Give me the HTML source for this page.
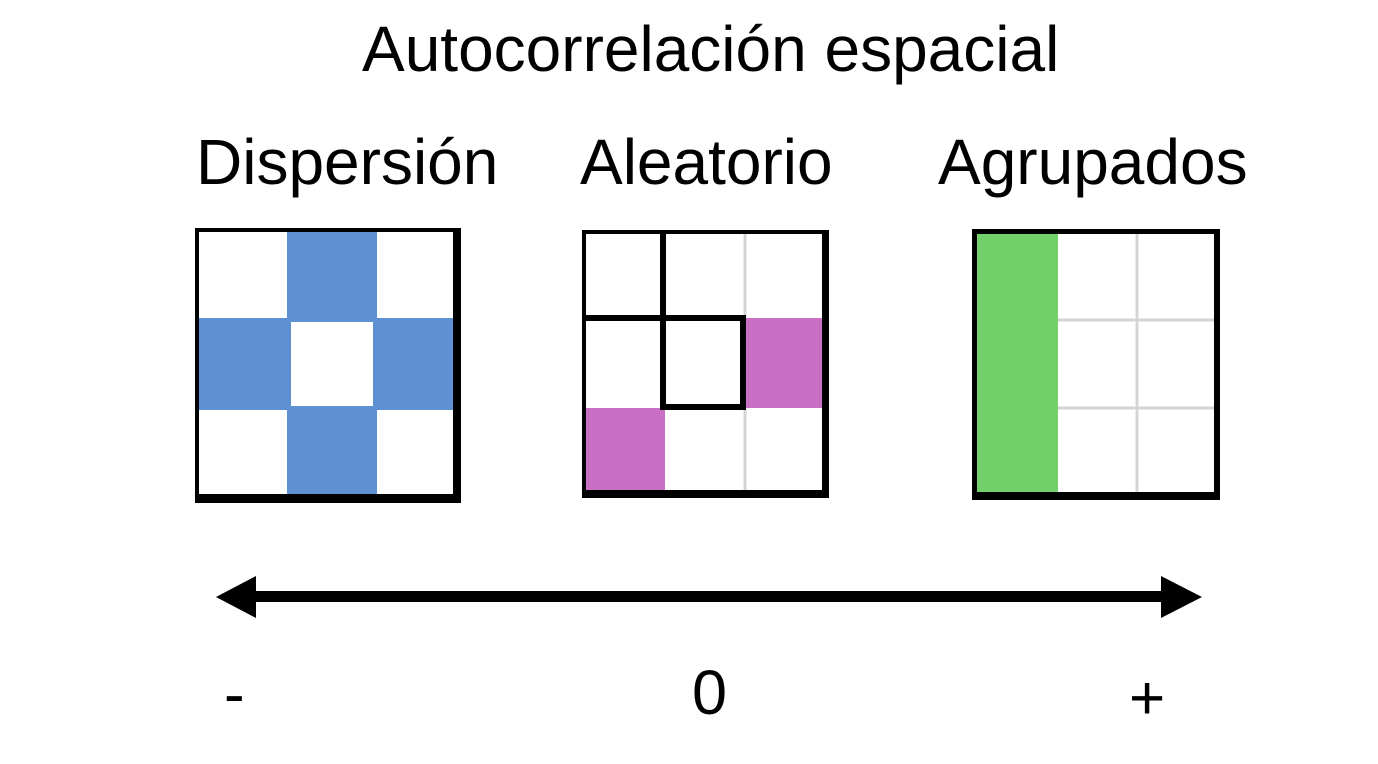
<!DOCTYPE html>
<html><head><meta charset="utf-8"><style>
body{margin:0;width:1378px;height:764px;background:#fff;overflow:hidden;position:relative;font-family:"Liberation Sans",Arial,sans-serif;color:#000}
.t{position:absolute;white-space:nowrap;line-height:1}
</style></head><body>
<div class="t" style="left:362px;top:17px;font-size:64px">Autocorrelación espacial</div>
<div class="t" style="left:196px;top:130px;font-size:64px">Dispersión</div>
<div class="t" style="left:580px;top:130px;font-size:64px">Aleatorio</div>
<div class="t" style="left:938px;top:130px;font-size:64px">Agrupados</div>
<div class="t" style="left:224px;top:664px;font-size:62px">-</div>
<div class="t" style="left:692px;top:662px;font-size:63px">0</div>
<div class="t" style="left:1129px;top:668px;font-size:62px">+</div>
<svg width="1378" height="764" style="position:absolute;left:0;top:0">
<rect x="195" y="228" width="266" height="275" fill="#000"/>
<rect x="199" y="232" width="254" height="262" fill="#fff"/>
<rect x="287" y="232" width="90" height="262" fill="#5f91d2"/>
<rect x="199" y="318" width="254" height="92" fill="#5f91d2"/>
<rect x="291" y="322" width="82" height="84" fill="#fff"/>
<rect x="582" y="230" width="247" height="268" fill="#000"/>
<rect x="586" y="234" width="236" height="256" fill="#fff"/>
<line x1="745" y1="234" x2="745" y2="490" stroke="#d4d4d4" stroke-width="3"/>
<rect x="745" y="318" width="77" height="90" fill="#c970c6"/>
<rect x="586" y="408" width="79" height="82" fill="#c970c6"/>
<rect x="660" y="234" width="6" height="176" fill="#000"/>
<rect x="586" y="315" width="160" height="6" fill="#000"/>
<rect x="740" y="315" width="6" height="95" fill="#000"/>
<rect x="660" y="404" width="86" height="6" fill="#000"/>
<rect x="972" y="229" width="248" height="271" fill="#000"/>
<rect x="977" y="234" width="237" height="258" fill="#fff"/>
<line x1="1137" y1="234" x2="1137" y2="492" stroke="#d4d4d4" stroke-width="3"/>
<line x1="1058" y1="320" x2="1214" y2="320" stroke="#d4d4d4" stroke-width="3"/>
<line x1="1058" y1="408" x2="1214" y2="408" stroke="#d4d4d4" stroke-width="3"/>
<rect x="977" y="234" width="81" height="258" fill="#72d06a"/>
<rect x="250" y="591" width="916" height="11" fill="#000"/>
<polygon points="216,597 256,576 256,618" fill="#000"/>
<polygon points="1202,597 1161,576 1161,618" fill="#000"/>
</svg>
</body></html>
